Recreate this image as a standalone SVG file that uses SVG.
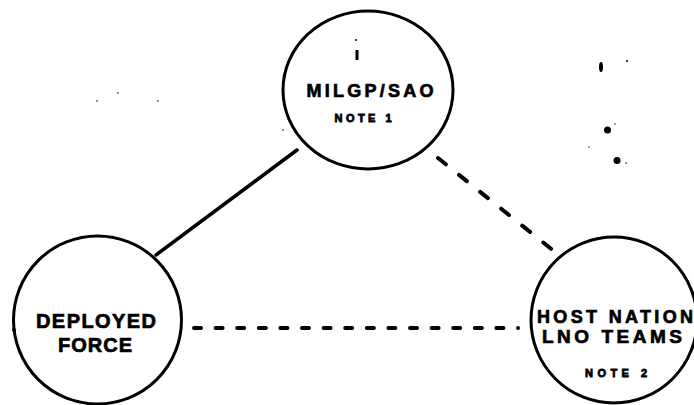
<svg xmlns="http://www.w3.org/2000/svg" width="694" height="405" viewBox="0 0 694 405">
<style>
.node{fill:#fff;stroke:#000;stroke-width:3}
.lbl{font-family:"Liberation Sans",Arial,sans-serif;font-weight:bold;fill:#000;stroke:#000;stroke-width:0.7;text-anchor:middle}
.note{font-family:"Liberation Sans",Arial,sans-serif;font-weight:bold;fill:#000;stroke:#000;stroke-width:0.8;text-anchor:middle;font-size:11px}
.solid{stroke:#000;stroke-width:3.5;stroke-linecap:round;fill:none}
.dash{stroke:#000;stroke-width:4;fill:none;stroke-linecap:round}
.speck{fill:#000}
</style>
<rect width="694" height="405" fill="#fff"/>
<g id="connectors">
<line class="solid" x1="297" y1="150" x2="156" y2="255"/>
<line class="dash" x1="438" y1="158" x2="560" y2="256" stroke-dasharray="10 17"/>
<line class="dash" x1="194" y1="328" x2="518" y2="328" stroke-dasharray="7 14.6"/>
</g>
<g id="milgp">
<ellipse class="node" cx="368" cy="90" rx="85" ry="79"/>
<text class="lbl" x="370" y="97" font-size="18" textLength="127" lengthAdjust="spacing">MILGP/SAO</text>
<text class="note" x="363" y="122" textLength="57" lengthAdjust="spacing">NOTE 1</text>
<rect class="speck" x="355.5" y="50" width="3" height="10"/>
<circle class="speck" cx="356" cy="40" r="1"/>
</g>
<g id="deployed">
<circle class="node" cx="97.5" cy="320" r="84"/>
<text class="lbl" x="96" y="328" font-size="20" textLength="120" lengthAdjust="spacing">DEPLOYED</text>
<text class="lbl" x="95" y="352" font-size="20" textLength="74" lengthAdjust="spacing">FORCE</text>
<circle class="speck" cx="14" cy="330" r="2"/>
</g>
<g id="hostnation">
<circle class="node" cx="614" cy="320" r="83"/>
<text class="lbl" x="615" y="323" font-size="18" textLength="156" lengthAdjust="spacing">HOST NATION</text>
<text class="lbl" x="612" y="343" font-size="19" textLength="140" lengthAdjust="spacing">LNO TEAMS</text>
<text class="note" x="616" y="377" textLength="62" lengthAdjust="spacing">NOTE 2</text>
</g>
<g id="specks">
<ellipse class="speck" cx="601" cy="67" rx="2" ry="5"/>
<circle class="speck" cx="607.5" cy="130" r="3.5"/>
<circle class="speck" cx="617" cy="160.5" r="3.5"/>
<circle class="speck" cx="627" cy="61" r="1"/>
<circle class="speck" cx="615" cy="124" r="0.7"/>
<circle class="speck" cx="589" cy="147" r="0.7"/>
<circle class="speck" cx="626" cy="163" r="0.8"/>
<circle class="speck" cx="97" cy="101" r="0.8"/>
<circle class="speck" cx="118" cy="93" r="0.8"/>
<circle class="speck" cx="158" cy="101" r="0.8"/>
<circle class="speck" cx="283" cy="130" r="0.8"/>
</g>
</svg>
